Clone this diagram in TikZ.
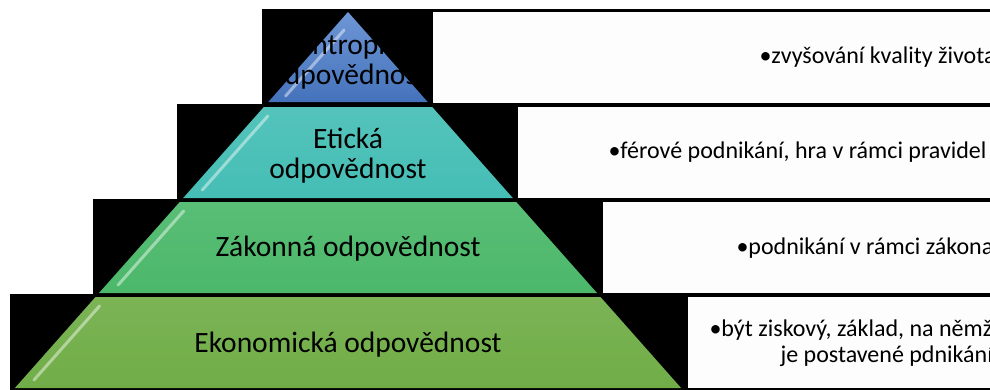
\documentclass[tikz,border=0pt]{standalone}
\usepackage{fontspec}
\setmainfont{Carlito}
\usepackage{tikz}

\definecolor{filanBlue}{HTML}{4A7CCB}
\definecolor{etikTeal}{HTML}{45BEB5}
\definecolor{zakonGreen}{HTML}{4BB86A}
\definecolor{ekonGreen}{HTML}{70AD47}
\definecolor{boxWhite}{HTML}{FDFDFD}

\begin{document}
\begin{tikzpicture}[x=1pt,y=-1pt,
    lvlText/.style={font=\fontsize{29.5}{30}\selectfont, align=center, text=black},
    descText/.style={font=\fontsize{24}{26}\selectfont, text=black},
    gloss/.style={line width=3, line cap=round, white, opacity=.45}]

    \useasboundingbox (0,0) rectangle (990,389);
    \clip (0,0) rectangle (990,389);

    % black bands, white boxes on the right
    \foreach \l/\t/\w in {262/9/433, 177/104/518, 93/199/603, 10/294/688} {
        \fill[black] (\l,\t) rectangle (990,\t+96);
        \fill[boxWhite] (\w,\t+3) rectangle (995,\t+94);
    }

    % pyramid
    \fill[top color=filanBlue!80!white, bottom color=filanBlue!92!black]
    (348,12) to (427.7,102) to (268.3,102) to cycle;
    \fill[top color=etikTeal!92!white, bottom color=etikTeal]
    (263.8,107) to (432.2,107) to (512.8,198) to (183.2,198) to cycle;
    \fill[top color=zakonGreen!92!white, bottom color=zakonGreen]
    (179.7,202) to (516.3,202) to (597,293) to (99,293) to cycle;
    \fill[top color=ekonGreen!92!white, bottom color=ekonGreen]
    (95.5,297) to (600.5,297) to (681.1,388) to (14.9,388) to cycle;

    \foreach \t/\b in {30/96, 116/190, 211/285, 306/380} {
        \draw[gloss] (348-0.886*\t+0.886*12+12,\t) to (348-0.886*\b+0.886*12+12,\b);
    }

    \node[lvlText] (filan) at (348,62) {Filantropická\\odpovědnost};
    \node[lvlText] (etik) at (348,156) {Etická\\odpovědnost};
    \node[lvlText] (zakon) at (348,249) {Zákonná odpovědnost};
    \node[lvlText] (ekon) at (348,345) {Ekonomická odpovědnost};

    \node[descText, anchor=west] (filanDesc) at (756,57) {•zvyšování kvality života};
    \node[descText, anchor=west] (etikDesc) at (605,152) {•férové podnikání, hra v rámci pravidel};
    \node[descText, anchor=west] (zakonDesc) at (733,248) {•podnikání v rámci zákona};
    \node[descText, anchor=west, align=left] (ekonDesc) at (706,343)
    {•být ziskový, základ, na němž\\\hspace*{71pt}je postavené pdnikání};

\end{tikzpicture}
\end{document}
